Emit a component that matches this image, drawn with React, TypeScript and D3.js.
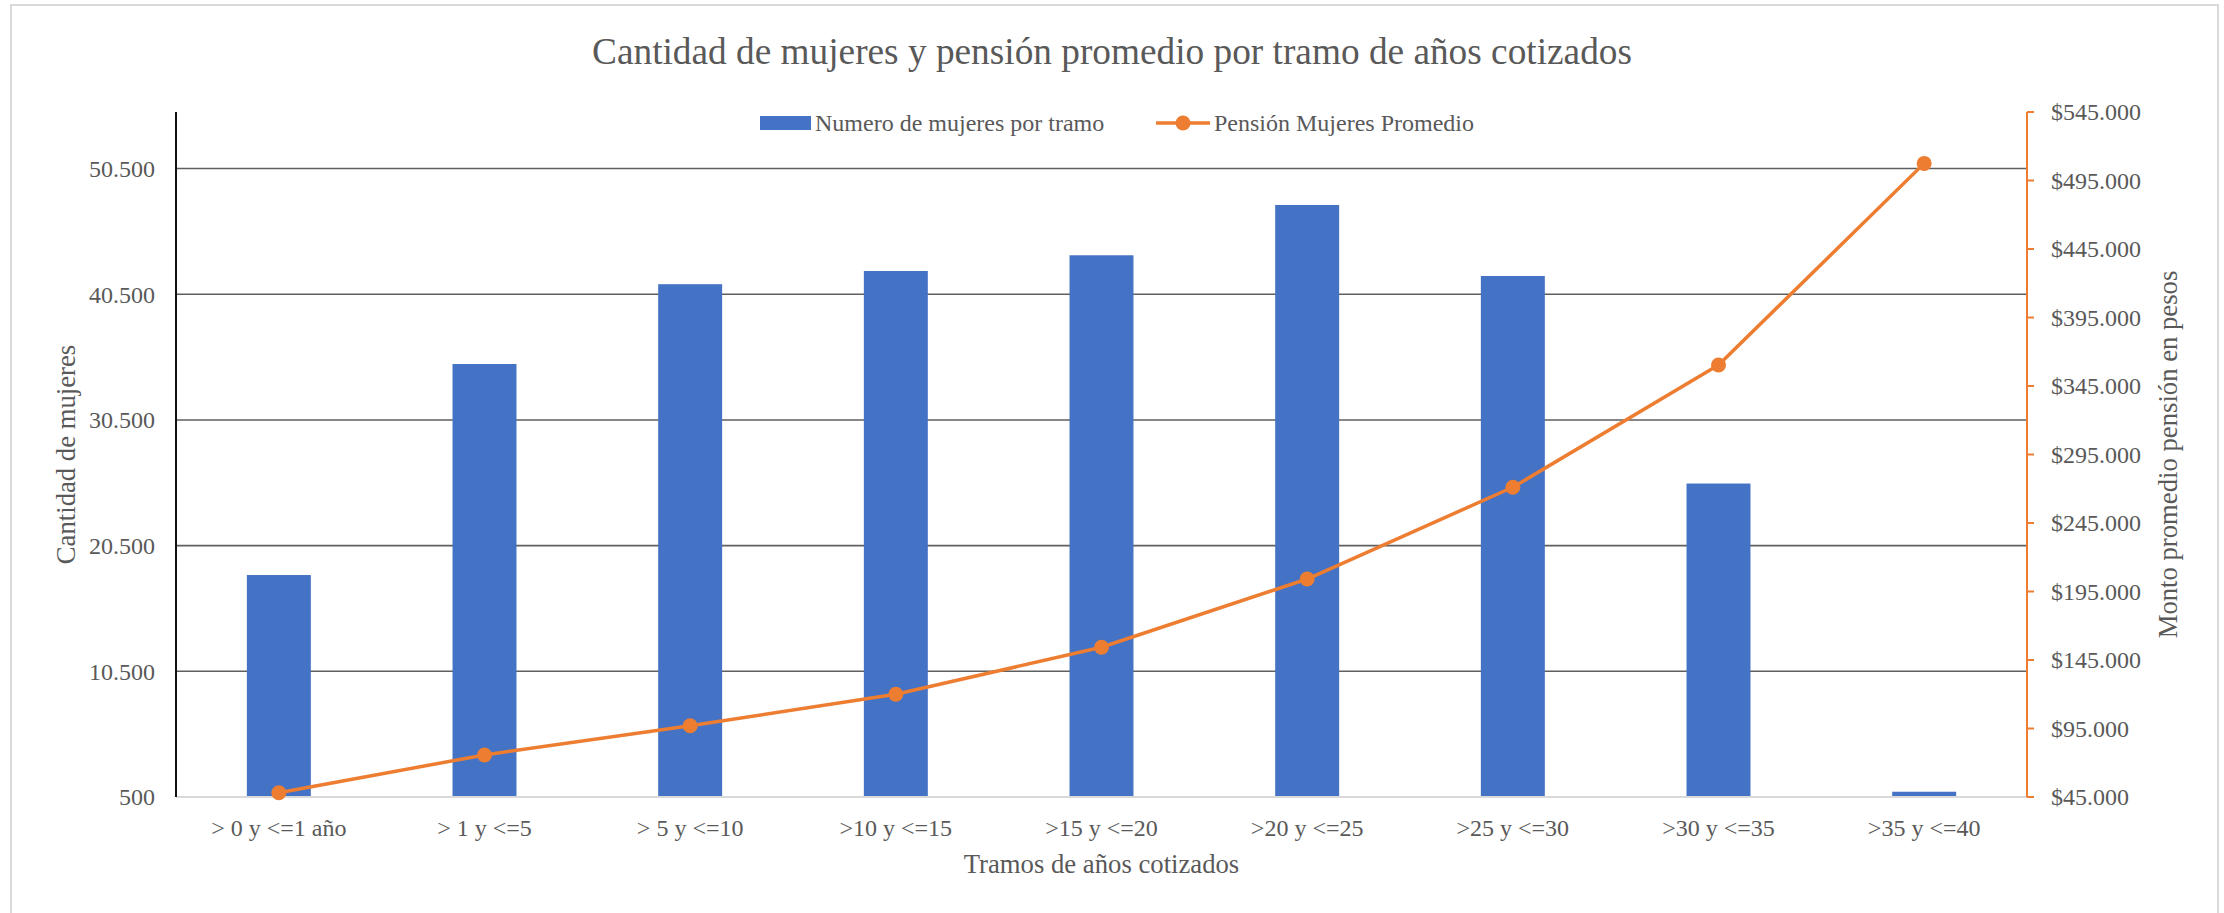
import { useEffect, useRef } from "react";
import * as d3 from "d3";

// ==================== DATA ====================
const tramos = [
  "> 0 y <=1 año",
  "> 1 y <=5",
  "> 5 y <=10",
  ">10 y <=15",
  ">15 y <=20",
  ">20 y <=25",
  ">25 y <=30",
  ">30 y <=35",
  ">35 y <=40",
];
const mujeresPorTramo = [18160, 34950, 41300, 42350, 43600, 47600, 41950, 25440, 920];
const pensionPromedio = [48100, 75700, 97000, 120000, 154300, 204100, 271100, 360300, 507500];
const leftTicks = [500, 10500, 20500, 30500, 40500, 50500];
const rightTicks = d3.range(45000, 545001, 50000);

const W = 2224;
const H = 913;
const FONT = "'Liberation Serif', 'Times New Roman', serif";
const TEXT = "#595959";
const BLUE = "#4472C4";
const ORANGE = "#ED7D31";

// chilean style numbers: 50.500 / $545.000
const cl = d3.formatLocale({ decimal: ",", thousands: ".", grouping: [3], currency: ["$", ""] });
const fmtNum = cl.format(",.0f");
const fmtPeso = cl.format("$,.0f");

const App = () => {
  const svgRef = useRef<SVGSVGElement>(null);

  useEffect(() => {
    const svg = d3.select(svgRef.current);
    svg.selectAll("*").remove();

    // plot area
    const left = 176, right = 2027, top = 112, bottom = 797;

    const x = d3.scaleBand<string>().domain(tramos).range([left, right]).padding(0);
    const barW = x.bandwidth() * 0.311;
    const yL = d3.scaleLinear().domain([500, 55000]).range([bottom, top]);
    const yR = d3.scaleLinear().domain([45000, 545000]).range([bottom, top]);

    // chart frame
    svg.append("rect")
      .attr("x", 11).attr("y", 5).attr("width", 2207).attr("height", 930)
      .attr("fill", "#fff").attr("stroke", "#d9d9d9").attr("stroke-width", 2);

    // title
    svg.append("text")
      .attr("x", 1112).attr("y", 64)
      .attr("text-anchor", "middle")
      .attr("font-family", FONT).attr("font-size", 37.3).attr("fill", TEXT)
      .text("Cantidad de mujeres y pensión promedio por tramo de años cotizados");

    // gridlines (left axis)
    svg.append("g").selectAll("line")
      .data(leftTicks.slice(1))
      .join("line")
      .attr("x1", left).attr("x2", right)
      .attr("y1", (d) => yL(d)).attr("y2", (d) => yL(d))
      .attr("stroke", "#5f5f5f").attr("stroke-width", 1.6);

    // bars
    svg.append("g").selectAll("rect")
      .data(mujeresPorTramo)
      .join("rect")
      .attr("x", (_, i) => x(tramos[i])! + x.bandwidth() / 2 - barW / 2)
      .attr("width", barW)
      .attr("y", (d) => yL(d))
      .attr("height", (d) => bottom - yL(d))
      .attr("fill", BLUE);

    // category axis line
    svg.append("line")
      .attr("x1", left).attr("x2", right).attr("y1", bottom).attr("y2", bottom)
      .attr("stroke", "#d9d9d9").attr("stroke-width", 2);

    // left axis line + labels
    svg.append("line")
      .attr("x1", left).attr("x2", left).attr("y1", top).attr("y2", bottom)
      .attr("stroke", "#111").attr("stroke-width", 2);
    svg.append("g").selectAll("text")
      .data(leftTicks)
      .join("text")
      .attr("x", 155).attr("y", (d) => yL(d)).attr("dy", "0.35em")
      .attr("text-anchor", "end")
      .attr("font-family", FONT).attr("font-size", 24).attr("fill", TEXT)
      .text((d) => fmtNum(d));

    // right axis (orange) with outside ticks
    const gR = svg.append("g");
    gR.append("line")
      .attr("x1", right).attr("x2", right).attr("y1", top).attr("y2", bottom)
      .attr("stroke", ORANGE).attr("stroke-width", 2);
    gR.selectAll("line.tick")
      .data(rightTicks)
      .join("line")
      .attr("class", "tick")
      .attr("x1", right).attr("x2", right + 7)
      .attr("y1", (d) => yR(d)).attr("y2", (d) => yR(d))
      .attr("stroke", ORANGE).attr("stroke-width", 2);
    gR.selectAll("text")
      .data(rightTicks)
      .join("text")
      .attr("x", 2051).attr("y", (d) => yR(d)).attr("dy", "0.35em")
      .attr("font-family", FONT).attr("font-size", 24).attr("fill", TEXT)
      .text((d) => fmtPeso(d));

    // category labels
    svg.append("g").selectAll("text")
      .data(tramos)
      .join("text")
      .attr("x", (d) => x(d)! + x.bandwidth() / 2).attr("y", 836)
      .attr("text-anchor", "middle")
      .attr("font-family", FONT).attr("font-size", 24).attr("fill", TEXT)
      .text((d) => d);

    // axis titles
    svg.append("text")
      .attr("x", (left + right) / 2).attr("y", 873)
      .attr("text-anchor", "middle")
      .attr("font-family", FONT).attr("font-size", 26.7).attr("fill", TEXT)
      .text("Tramos de años cotizados");
    svg.append("text")
      .attr("transform", `translate(66, ${(top + bottom) / 2}) rotate(-90)`)
      .attr("dy", "0.35em")
      .attr("text-anchor", "middle")
      .attr("font-family", FONT).attr("font-size", 26.7).attr("fill", TEXT)
      .text("Cantidad de mujeres");
    svg.append("text")
      .attr("transform", `translate(2168, ${(top + bottom) / 2}) rotate(-90)`)
      .attr("dy", "0.35em")
      .attr("text-anchor", "middle")
      .attr("font-family", FONT).attr("font-size", 26.7).attr("fill", TEXT)
      .text("Monto promedio pensión en pesos");

    // pension line + markers
    const cx = (i: number) => x(tramos[i])! + x.bandwidth() / 2;
    const line = d3.line<number>().x((_, i) => cx(i)).y((d) => yR(d));
    svg.append("path")
      .datum(pensionPromedio)
      .attr("d", line)
      .attr("fill", "none").attr("stroke", ORANGE).attr("stroke-width", 3.5)
      .attr("stroke-linejoin", "round");
    svg.append("g").selectAll("circle")
      .data(pensionPromedio)
      .join("circle")
      .attr("cx", (_, i) => cx(i)).attr("cy", (d) => yR(d)).attr("r", 7.5)
      .attr("fill", ORANGE);

    // legend
    const lg = svg.append("g").attr("font-family", FONT).attr("font-size", 24).attr("fill", TEXT);
    lg.append("rect").attr("x", 760).attr("y", 116).attr("width", 51).attr("height", 14).attr("fill", BLUE);
    lg.append("text").attr("x", 815).attr("y", 123).attr("dy", "0.35em").text("Numero de mujeres por tramo");
    lg.append("line").attr("x1", 1156).attr("x2", 1210).attr("y1", 123).attr("y2", 123)
      .attr("stroke", ORANGE).attr("stroke-width", 3.5);
    lg.append("circle").attr("cx", 1183).attr("cy", 123).attr("r", 7.5).attr("fill", ORANGE);
    lg.append("text").attr("x", 1214).attr("y", 123).attr("dy", "0.35em").text("Pensión Mujeres Promedio");
  }, []);

  return (
    <svg
      ref={svgRef}
      width={W}
      height={H}
      style={{ position: "absolute", left: 0, top: 0, background: "#fff" }}
    />
  );
};

export default App;
